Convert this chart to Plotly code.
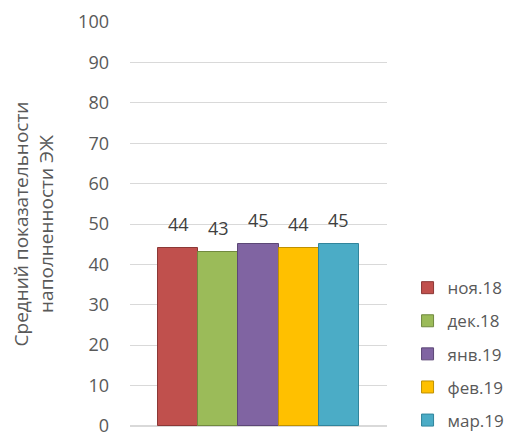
import plotly.graph_objects as go

months = ["ноя.18", "дек.18", "янв.19", "фев.19", "мар.19"]
values = [44, 43, 45, 44, 45]
colors = ["#C0504D", "#9BBB59", "#8064A2", "#FFC000", "#4BACC6"]
edges = ["#8C3836", "#71893F", "#5C4776", "#BF9000", "#31859C"]
y_ticks = [0, 10, 20, 30, 40, 50, 60, 70, 80, 90, 100]

FONT = "'Open Sans', 'Noto Sans', sans-serif"

fig = go.Figure()
for m, v, c, e in zip(months, values, colors, edges):
    fig.add_trace(go.Bar(
        x=[m], y=[v], name=m, legendgroup=m,
        marker=dict(color=c, line=dict(color=e, width=1)),
    ))
    fig.add_annotation(x=m, y=v, text=str(v), showarrow=False,
                       yanchor="middle", yshift=24,
                       font=dict(size=18, color="#404040", family=FONT))

fig.update_layout(
    width=509, height=432,
    margin=dict(l=122, r=130, t=14, b=14, autoexpand=False),
    paper_bgcolor="white", plot_bgcolor="white",
    font=dict(family=FONT, color="#595959", size=18),
    barmode="overlay", bargap=0,
    showlegend=True,
    legend=dict(x=1.08, xanchor="left", y=-0.03, yanchor="bottom",
                font=dict(size=17, color="#595959"), tracegroupgap=8,
                traceorder="grouped", itemwidth=30),
    xaxis=dict(visible=False, type="category", range=[-1.2, 5.2]),
    yaxis=dict(range=[-0.02, 100.02], tickvals=y_ticks, showgrid=True, gridcolor="#D9D9D9",
               zeroline=True, zerolinecolor="#D9D9D9", showline=False,
               ticklabeloverflow="allow",
               ticklabelstandoff=20, tickfont=dict(size=18, color="#595959"),
               title=dict(text="Средний показательности<br>наполненности ЭЖ",
                          font=dict(size=19, color="#595959"), standoff=25)),
)

fig.write_html("out.html")
